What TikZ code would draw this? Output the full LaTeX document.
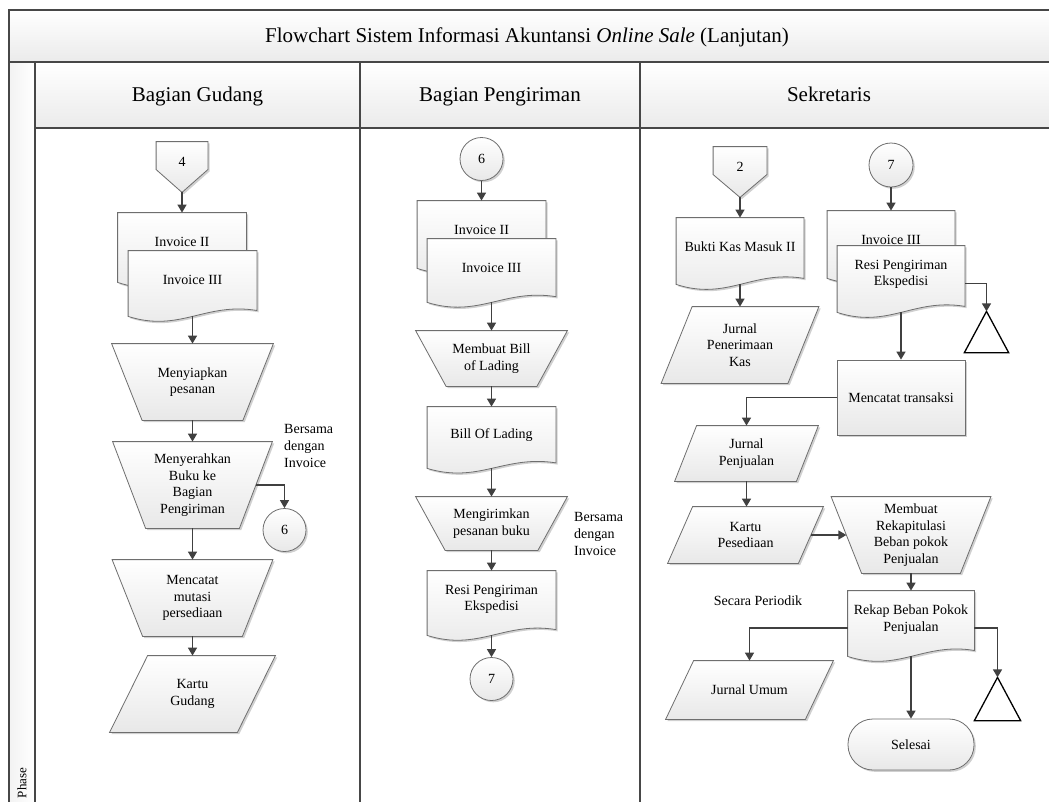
\documentclass[tikz,border=0pt]{standalone}
\usepackage{fontspec}
\setmainfont{Liberation Serif}
\usetikzlibrary{arrows.meta,shadows,calc}

\makeatletter
\pgfkeys{/pgf/rk inset/.initial=0}
% document symbol: straight top and sides, wavy bottom lying rk inset below the box
\pgfdeclareshape{rkdoc}{%
  \inheritsavedanchors[from=rectangle]%
  \savedmacro{\rkinset}{\pgfmathsetmacro{\rkinset}{\pgfkeysvalueof{/pgf/rk inset}}}%
  \inheritanchorborder[from=rectangle]%
  \inheritanchor[from=rectangle]{center}%
  \inheritanchor[from=rectangle]{north}%
  \inheritanchor[from=rectangle]{south}%
  \inheritanchor[from=rectangle]{east}%
  \inheritanchor[from=rectangle]{west}%
  \inheritanchor[from=rectangle]{north east}%
  \inheritanchor[from=rectangle]{north west}%
  \inheritanchor[from=rectangle]{south east}%
  \inheritanchor[from=rectangle]{south west}%
  \anchor{bot}{%
    \southwest \pgf@xa=\pgf@x \pgf@ya=\pgf@y
    \northeast
    \pgf@x=.5\pgf@x \advance\pgf@x by .5\pgf@xa
    \pgf@y=\pgf@ya \advance\pgf@y by -\rkinset pt\relax
  }%
  \backgroundpath{%
    \southwest \edef\rk@xa{\the\pgf@x}\edef\rk@ya{\the\pgf@y}%
    \northeast \edef\rk@xb{\the\pgf@x}\edef\rk@yb{\the\pgf@y}%
    \pgfmathsetmacro\rk@yl{\rk@ya-\rkinset}%
    \pgfmathsetmacro\rk@h{\rk@yb-\rk@yl}%
    \pgfmathsetmacro\rk@w{\rk@xb-\rk@xa}%
    \pgfpathmoveto{\pgfpoint{\rk@xa}{\rk@yb}}%
    \pgfpathlineto{\pgfpoint{\rk@xb}{\rk@yb}}%
    \pgfpathlineto{\pgfpoint{\rk@xb}{\rk@yl+0.09*\rk@h}}%
    \pgfpathcurveto{\pgfpoint{\rk@xa+0.6*\rk@w}{\rk@yl+0.22*\rk@h}}%
                   {\pgfpoint{\rk@xa+0.4*\rk@w}{\rk@yl-0.25*\rk@h}}%
                   {\pgfpoint{\rk@xa}{\rk@yl}}%
    \pgfpathclose
  }%
}
% off-page connector: box with a pointed bottom
\pgfdeclareshape{rkoff}{%
  \inheritsavedanchors[from=rectangle]%
  \inheritanchorborder[from=rectangle]%
  \inheritanchor[from=rectangle]{center}%
  \inheritanchor[from=rectangle]{north}%
  \inheritanchor[from=rectangle]{south}%
  \inheritanchor[from=rectangle]{east}%
  \inheritanchor[from=rectangle]{west}%
  \backgroundpath{%
    \southwest \edef\rk@xa{\the\pgf@x}\edef\rk@ya{\the\pgf@y}%
    \northeast \edef\rk@xb{\the\pgf@x}\edef\rk@yb{\the\pgf@y}%
    \pgfmathsetmacro\rk@ym{\rk@ya+0.45*(\rk@yb-\rk@ya)}%
    \pgfmathsetmacro\rk@xm{0.5*(\rk@xa+\rk@xb)}%
    \pgfpathmoveto{\pgfpoint{\rk@xa}{\rk@yb}}%
    \pgfpathlineto{\pgfpoint{\rk@xb}{\rk@yb}}%
    \pgfpathlineto{\pgfpoint{\rk@xb}{\rk@ym}}%
    \pgfpathlineto{\pgfpoint{\rk@xm}{\rk@ya}}%
    \pgfpathlineto{\pgfpoint{\rk@xa}{\rk@ym}}%
    \pgfpathclose
  }%
}
% manual operation: wide top, bottom narrowed by rk inset on each side
\pgfdeclareshape{rkmop}{%
  \inheritsavedanchors[from=rectangle]%
  \savedmacro{\rkinset}{\pgfmathsetmacro{\rkinset}{\pgfkeysvalueof{/pgf/rk inset}}}%
  \inheritanchorborder[from=rectangle]%
  \inheritanchor[from=rectangle]{center}%
  \inheritanchor[from=rectangle]{north}%
  \inheritanchor[from=rectangle]{south}%
  \inheritanchor[from=rectangle]{east}%
  \inheritanchor[from=rectangle]{west}%
  \anchor{rside}{%
    \southwest \pgf@ya=\pgf@y
    \northeast \pgf@yb=\pgf@y
    \advance\pgf@x by -.5\dimexpr\rkinset pt\relax
    \pgf@y=.5\pgf@ya \advance\pgf@y by .5\pgf@yb
  }%
  \anchor{lside}{%
    \northeast \pgf@yb=\pgf@y
    \southwest \pgf@ya=\pgf@y
    \advance\pgf@x by .5\dimexpr\rkinset pt\relax
    \pgf@y=.5\pgf@ya \advance\pgf@y by .5\pgf@yb
  }%
  \backgroundpath{%
    \southwest \edef\rk@xa{\the\pgf@x}\edef\rk@ya{\the\pgf@y}%
    \northeast \edef\rk@xb{\the\pgf@x}\edef\rk@yb{\the\pgf@y}%
    \pgfpathmoveto{\pgfpoint{\rk@xa}{\rk@yb}}%
    \pgfpathlineto{\pgfpoint{\rk@xb}{\rk@yb}}%
    \pgfpathlineto{\pgfpoint{\rk@xb-\rkinset}{\rk@ya}}%
    \pgfpathlineto{\pgfpoint{\rk@xa+\rkinset}{\rk@ya}}%
    \pgfpathclose
  }%
}
% data symbol: parallelogram leaning right by rk inset
\pgfdeclareshape{rkdata}{%
  \inheritsavedanchors[from=rectangle]%
  \savedmacro{\rkinset}{\pgfmathsetmacro{\rkinset}{\pgfkeysvalueof{/pgf/rk inset}}}%
  \inheritanchorborder[from=rectangle]%
  \inheritanchor[from=rectangle]{center}%
  \inheritanchor[from=rectangle]{north}%
  \inheritanchor[from=rectangle]{south}%
  \inheritanchor[from=rectangle]{east}%
  \inheritanchor[from=rectangle]{west}%
  \anchor{rside}{%
    \southwest \pgf@ya=\pgf@y
    \northeast \pgf@yb=\pgf@y
    \advance\pgf@x by -.5\dimexpr\rkinset pt\relax
    \pgf@y=.5\pgf@ya \advance\pgf@y by .5\pgf@yb
  }%
  \anchor{lside}{%
    \northeast \pgf@yb=\pgf@y
    \southwest \pgf@ya=\pgf@y
    \advance\pgf@x by .5\dimexpr\rkinset pt\relax
    \pgf@y=.5\pgf@ya \advance\pgf@y by .5\pgf@yb
  }%
  \backgroundpath{%
    \southwest \edef\rk@xa{\the\pgf@x}\edef\rk@ya{\the\pgf@y}%
    \northeast \edef\rk@xb{\the\pgf@x}\edef\rk@yb{\the\pgf@y}%
    \pgfpathmoveto{\pgfpoint{\rk@xa+\rkinset}{\rk@yb}}%
    \pgfpathlineto{\pgfpoint{\rk@xb}{\rk@yb}}%
    \pgfpathlineto{\pgfpoint{\rk@xb-\rkinset}{\rk@ya}}%
    \pgfpathlineto{\pgfpoint{\rk@xa}{\rk@ya}}%
    \pgfpathclose
  }%
}
% archive symbol: triangle with its apex at the top
\pgfdeclareshape{rkarch}{%
  \inheritsavedanchors[from=rectangle]%
  \inheritanchorborder[from=rectangle]%
  \inheritanchor[from=rectangle]{center}%
  \inheritanchor[from=rectangle]{north}%
  \inheritanchor[from=rectangle]{south}%
  \backgroundpath{%
    \southwest \edef\rk@xa{\the\pgf@x}\edef\rk@ya{\the\pgf@y}%
    \northeast \edef\rk@xb{\the\pgf@x}\edef\rk@yb{\the\pgf@y}%
    \pgfpathmoveto{\pgfpoint{0.5*(\rk@xa+\rk@xb)}{\rk@yb}}%
    \pgfpathlineto{\pgfpoint{\rk@xb}{\rk@ya}}%
    \pgfpathlineto{\pgfpoint{\rk@xa}{\rk@ya}}%
    \pgfpathclose
  }%
}
\makeatother

\definecolor{rkline}{HTML}{6E6E6E}
\definecolor{rkarrow}{HTML}{404040}
\definecolor{rkframe}{HTML}{474747}

\newcommand\rkbody{\fontsize{14pt}{16.6pt}\selectfont}
\newcommand\rkhead{\fontsize{21pt}{24pt}\selectfont}
\newcommand\rktitle{\fontsize{21pt}{25pt}\selectfont}
\newcommand\rkphase{\fontsize{13pt}{15pt}\selectfont}

\tikzset{
  rkin/.style={/pgf/rk inset=#1},
  rkshadow/.style={drop shadow={shadow xshift=1.8pt, shadow yshift=-1.8pt, opacity=0.3, fill=black!60}},
  shp/.style={draw=rkline, line width=0.8pt, top color=white, bottom color=black!9,
    rkshadow, inner sep=0pt, align=center, font=\rkbody},
  docn/.style={shp, shape=rkdoc, minimum width=128pt, minimum height=57pt},
  offp/.style={shp, shape=rkoff},
  mop/.style={shp, shape=rkmop},
  dat/.style={shp, shape=rkdata},
  proc/.style={shp, shape=rectangle},
  term/.style={shp, shape=rectangle, rounded corners=25pt},
  conn/.style={shp, shape=circle, minimum size=43pt},
  arch/.style={shape=rkarch, draw=black, line width=1.3pt, fill=white, inner sep=0pt},
  note/.style={font=\rkbody, align=left, inner sep=0pt},
  flow/.style={draw=rkarrow, line width=1.5pt, -{Triangle[length=8pt,width=9pt]}},
  frame/.style={draw=rkframe, line width=1.6pt},
  heading/.style={font=\rkhead, inner sep=0pt, anchor=base},
}

\begin{document}
\begin{tikzpicture}[x=1pt,y=-1pt]
\useasboundingbox (0,0) rectangle (1049,801);
\clip (0,0) rectangle (1049,801);
\fill[white] (0,0) rectangle (1049,801);

% pool frame: title band, lane headers, phase strip and lane borders
\shade[top color=white, bottom color=black!8] (9,10) rectangle (1060,62);
\shade[top color=white, bottom color=black!8] (35,62) rectangle (1060,128);
\shade[left color=black!5, right color=white] (9,62) rectangle (35,810);
\draw[frame] (1060,10) -- (9,10) -- (9,810);
\draw[frame] (9,62) -- (1060,62);
\draw[frame] (35,128) -- (1060,128);
\draw[frame] (35,62) -- (35,810);
\draw[frame] (360,62) -- (360,810);
\draw[frame] (640,62) -- (640,810);

\node[font=\rktitle, inner sep=0pt, anchor=base] (ttl) at (527,42)
  {Flowchart Sistem Informasi Akuntansi \textit{Online Sale} (Lanjutan)};
\node[heading] (h1) at (197.5,101) {Bagian Gudang};
\node[heading] (h2) at (500,101) {Bagian Pengiriman};
\node[heading] (h3) at (829,101) {Sekretaris};
\node[font=\rkphase, rotate=90, inner sep=0pt] (ph) at (22,783) {Phase};

% Bagian Gudang
\node[offp, minimum width=51pt, minimum height=50pt] (off4) at (182,167) {\raisebox{10pt}{4}};
\node[docn, rkin=12] (inv2a) at (182,241.5) {Invoice II};
\node[docn, rkin=8] (inv3a) at (192.5,279.5) {Invoice III};
\node[mop, minimum width=161pt, minimum height=76pt, rkin=30.5] (my1) at (192.5,382) {Menyiapkan\\pesanan};
\node[mop, minimum width=159pt, minimum height=86pt, rkin=33] (mz) at (192.5,485) {Menyerahkan\\Buku ke\\Bagian\\Pengiriman};
\node[conn] (c6a) at (284.5,530) {6};
\node[mop, minimum width=160pt, minimum height=76pt, rkin=30.5] (mc) at (192.5,598) {Mencatat\\mutasi\\persediaan};
\node[dat, minimum width=165pt, minimum height=76pt, rkin=38] (kg) at (192.5,694) {Kartu\\Gudang};
\node[note, anchor=west] (ket1) at (284,446) {Bersama\\dengan\\Invoice};

% Bagian Pengiriman
\node[conn] (c6b) at (481.5,159) {6};
\node[docn, rkin=10] (inv2b) at (481.5,229.5) {Invoice II};
\node[docn, rkin=6] (inv3b) at (491.5,267.5) {Invoice III};
\node[mop, minimum width=151pt, minimum height=55pt, rkin=30.5] (mb) at (491.5,358.5) {Membuat Bill\\of Lading};
\node[docn, rkin=4] (bl) at (491.5,435.5) {Bill Of Lading};
\node[mop, minimum width=151pt, minimum height=53pt, rkin=29.5] (mk) at (491.5,523.5) {Mengirimkan\\pesanan buku};
\node[docn, rkin=7] (rs) at (491.5,599.5) {Resi Pengiriman\\Ekspedisi};
\node[conn] (c7a) at (491.5,679) {7};
\node[note, anchor=west] (ket2) at (574,534) {Bersama\\dengan\\Invoice};

% Sekretaris
\node[offp, minimum width=53pt, minimum height=50pt] (off2) at (740,172) {\raisebox{10pt}{2}};
\node[docn, rkin=9, minimum width=127pt] (bk) at (740,246.5) {Bukti Kas Masuk II};
\node[dat, minimum width=157pt, minimum height=76pt, rkin=31] (jpk) at (740,345) {Jurnal\\Penerimaan\\Kas};
\node[conn, minimum size=44pt] (c7b) at (891,165) {7};
\node[docn, rkin=10, minimum width=127pt] (inv3c) at (891,239.5) {Invoice III};
\node[docn, rkin=9, minimum width=127pt] (rsc) at (901,274.5) {Resi Pengiriman\\Ekspedisi};
\node[arch, minimum width=43pt, minimum height=40pt] (tr1) at (986.5,332) {};
\node[proc, minimum width=128pt, minimum height=75pt] (mt) at (901,397.5) {Mencatat transaksi};
\node[dat, minimum width=143pt, minimum height=55pt, rkin=22] (jp) at (746.5,453.5) {Jurnal\\Penjualan};
\node[dat, minimum width=155pt, minimum height=56pt, rkin=25] (kp) at (745.5,535) {Kartu\\Pesediaan};
\node[mop, minimum width=159pt, minimum height=76pt, rkin=30.5] (mr) at (911,535) {Membuat\\Rekapitulasi\\Beban pokok\\Penjualan};
\node[docn, rkin=8, minimum width=126pt] (rk) at (911,619.5) {Rekap Beban Pokok\\Penjualan};
\node[note] (per) at (758,601) {Secara Periodik};
\node[dat, minimum width=167pt, minimum height=58pt, rkin=28] (ju) at (749.5,690) {Jurnal Umum};
\node[term, minimum width=126pt, minimum height=51pt] (sl) at (911,744.5) {Selesai};
\node[arch, minimum width=45pt, minimum height=42pt] (tr2) at (997.5,699) {};

% flow lines
\draw[flow] (off4.south) -- (inv2a.north);
\draw[flow] (inv3a.bot) -- (my1.north);
\draw[flow] (my1.south) -- (mz.north);
\draw[flow] (mz.south) -- (mc.north);
\draw[flow] (mz.rside) -| (c6a.north);
\draw[flow] (mc.south) -- (kg.north);

\draw[flow] (c6b.south) -- (inv2b.north);
\draw[flow] (inv3b.bot) -- (mb.north);
\draw[flow] (mb.south) -- (bl.north);
\draw[flow] (bl.bot) -- (mk.north);
\draw[flow] (mk.south) -- (rs.north);
\draw[flow] (rs.bot) -- (c7a.north);

\draw[flow] (off2.south) -- (bk.north);
\draw[flow] (bk.bot) -- (jpk.north);
\draw[flow] (c7b.south) -- (inv3c.north);
\draw[flow] ([yshift=-9pt]rsc.east) -| (tr1.north);
\draw[flow] (rsc.bot) -- (mt.north);
\draw[flow] (mt.west) -| (jp.north);
\draw[flow] (jp.south) -- (jp.south |- kp.north);
\draw[flow] (kp.rside) -- (mr.lside);
\draw[flow] (mr.south) -- (rk.north);
\draw[flow] ([yshift=-8.5pt]rk.west) -| (ju.north);
\draw[flow] (rk.bot) -- (sl.north);
\draw[flow] ([yshift=-8.5pt]rk.east) -| (tr2.north);
\end{tikzpicture}
\end{document}
